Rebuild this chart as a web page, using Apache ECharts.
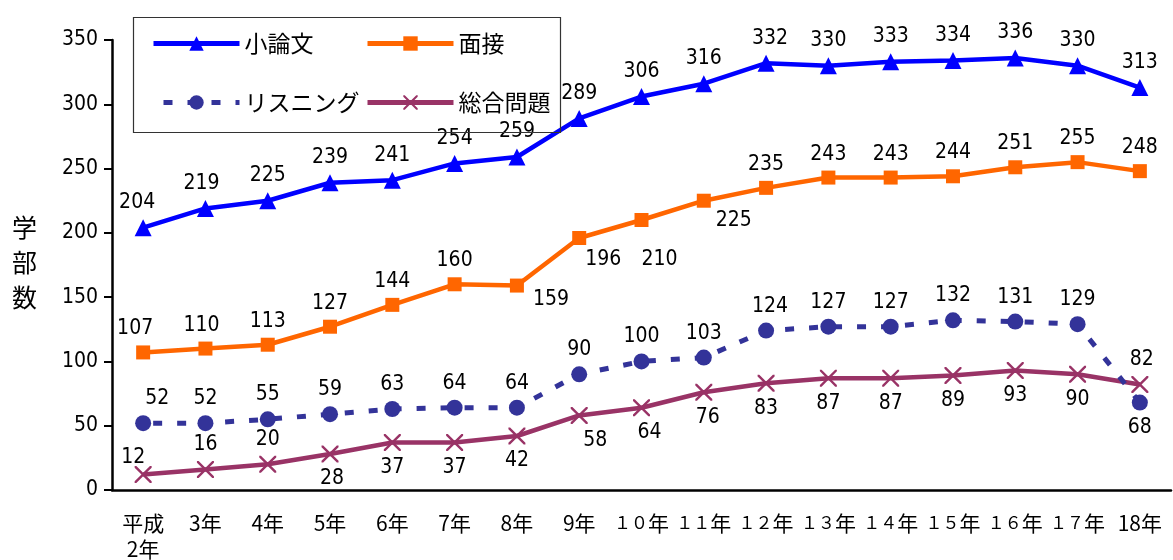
<!DOCTYPE html>
<html><head><meta charset="utf-8">
<script src="https://cdn.jsdelivr.net/npm/echarts@6/dist/echarts.min.js"></script>
<style>html,body{margin:0;padding:0;background:#fff}#c{width:1173px;height:560px}</style>
</head><body><div id="c"></div>
<script>
const categories = ['平成\n2年','3年','4年','5年','6年','7年','8年','9年','１０年','１１年','１２年','１３年','１４年','１５年','１６年','１７年','18年'];
const shoronbun = [204,219,225,239,241,254,259,289,306,316,332,330,333,334,336,330,313];
const mensetsu  = [107,110,113,127,144,160,159,196,210,225,235,243,243,244,251,255,248];
const listening = [52,52,55,59,63,64,64,90,100,103,124,127,127,132,131,129,68];
const sogo      = [12,16,20,28,37,37,42,58,64,76,83,87,87,89,93,90,82];
const yTicks = [0,50,100,150,200,250,300,350];

// label placement (t = top, b = bottom) and offsets
const posShoronbun = Array(17).fill('t');
const offShoronbun = [[-6,0],[-4,0],[0,0],[0,0],[0,0],[0,0],[0,0],[0,0],[0,0],[0,0],[4,0],[0,0],[0,0],[0,0],[0,0],[0,0],[0,0]];
const posMensetsu = ['t','t','t','t','t','t','b','b','b','b','t','t','t','t','t','t','t'];
const offMensetsu = [[-8,0],[-4,0],[0,0],[0,0],[0,0],[0,0],[34,-10],[24,-2],[18,16],[30,-4],[0,0],[0,0],[0,0],[0,0],[0,0],[0,0],[0,0]];
const posListening = ['t','t','t','t','t','t','t','t','t','t','t','t','t','t','t','t','b'];
const offListening = [[14,0],[0,0],[0,0],[0,0],[0,0],[0,0],[0,0],[0,0],[0,0],[0,0],[4,0],[0,0],[0,0],[0,0],[0,0],[0,0],[0,0]];
const posSogo = ['t','t','t','b','b','b','b','b','b','b','b','b','b','b','b','b','t'];
const offSogo = [[-10,8],[0,0],[0,0],[2,0],[0,0],[0,0],[0,0],[16,0],[8,0],[4,0],[0,0],[0,0],[0,0],[0,0],[0,0],[0,0],[2,0]];

const numFont = "'DejaVu Sans Condensed','Liberation Sans Narrow','Liberation Sans',Arial,sans-serif";
const cjkFont = "'Noto Sans CJK JP',sans-serif";

function build(vals, pos, off) {
  return vals.map((v, i) => ({
    value: v,
    label: { position: pos[i] === 't' ? 'top' : 'bottom', offset: off[i] }
  }));
}
function fmtCat(s) {
  const m = s.match(/^([０-９]+)(.*)$/);
  if (m) return '{f|' + m[1] + '}{n|' + m[2] + '}';
  return s.split('\n').map(line => '{n|' + line + '}').join('\n');
}
const xPath = 'path://M0,0 L2,0 L10,8 L18,0 L20,0 L20,2 L12,10 L20,18 L20,20 L18,20 L10,12 L2,20 L0,20 L0,18 L8,10 L0,2 Z';
const baseLabel = { show: true, fontFamily: numFont, fontSize: 21, color: '#000', distance: 6 };
const legendText = { fontFamily: cjkFont, fontSize: 23, color: '#000' };
const legendCommon = { itemWidth: 86, itemHeight: 18, itemGap: 4, textStyle: legendText, lineStyle: { width: 5 } };

const chart = echarts.init(document.getElementById('c'));
chart.setOption({
  animation: false,
  grid: { left: 112, right: 2, top: 40, bottom: 70 },
  legend: [
    Object.assign({ data: ['小論文'], left: 146, top: 27 }, legendCommon),
    Object.assign({ data: ['面接'], left: 360, top: 27 }, legendCommon),
    Object.assign({ data: ['リスニング'], left: 146, top: 86 }, legendCommon),
    Object.assign({ data: ['総合問題'], left: 360, top: 86 }, legendCommon)
  ],
  graphic: [
    { type: 'rect', left: 131, top: 15, shape: { width: 427, height: 115 }, style: { fill: 'none', stroke: '#333', lineWidth: 1.2 }, z: 10 },
    { type: 'text', left: 12, top: 210, style: { text: '学\n部\n数', fontFamily: cjkFont, fontSize: 25, lineHeight: 35, fill: '#000' } }
  ],
  xAxis: {
    type: 'category', data: categories, boundaryGap: true,
    axisLine: { lineStyle: { color: '#000', width: 2.5 } },
    axisTick: { inside: true, length: 7, lineStyle: { color: '#000', width: 1.5 } },
    axisLabel: {
      fontFamily: cjkFont, fontSize: 21, color: '#000', margin: 20, interval: 0,
      formatter: fmtCat,
      rich: {
        n: { fontFamily: cjkFont, fontSize: 21, lineHeight: 26, color: '#000' },
        f: { fontFamily: cjkFont, fontSize: 17, lineHeight: 26, color: '#000' }
      }
    }
  },
  yAxis: {
    type: 'value', min: yTicks[0], max: yTicks[yTicks.length-1], interval: 50,
    splitLine: { show: false },
    axisLine: { show: true, lineStyle: { color: '#000', width: 2.5 } },
    axisTick: { show: true, length: 8, lineStyle: { color: '#000', width: 2 } },
    axisLabel: { fontFamily: numFont, fontSize: 21, color: '#000', margin: 14 }
  },
  series: [
    { name: '小論文', type: 'line', data: build(shoronbun, posShoronbun, offShoronbun),
      color: '#0000FF', lineStyle: { width: 4.5, color: '#0000FF' }, symbol: 'triangle', symbolSize: 17,
      itemStyle: { color: '#0000FF' }, label: baseLabel, z: 4 },
    { name: '面接', type: 'line', data: build(mensetsu, posMensetsu, offMensetsu),
      color: '#FF6600', lineStyle: { width: 4.5, color: '#FF6600' }, symbol: 'rect', symbolSize: 14,
      itemStyle: { color: '#FF6600' }, label: baseLabel, z: 3 },
    { name: 'リスニング', type: 'line', data: build(listening, posListening, offListening),
      color: '#333399', lineStyle: { width: 5, color: '#333399', type: [9, 15], dashOffset: -10 }, symbol: 'circle', symbolSize: 16,
      itemStyle: { color: '#333399' }, label: baseLabel, z: 2 },
    { name: '総合問題', type: 'line', data: build(sogo, posSogo, offSogo),
      color: '#993366', lineStyle: { width: 4.5, color: '#993366' }, symbol: xPath, symbolSize: 17,
      itemStyle: { color: '#993366' }, label: baseLabel, z: 1 }
  ]
});
</script></body></html>
